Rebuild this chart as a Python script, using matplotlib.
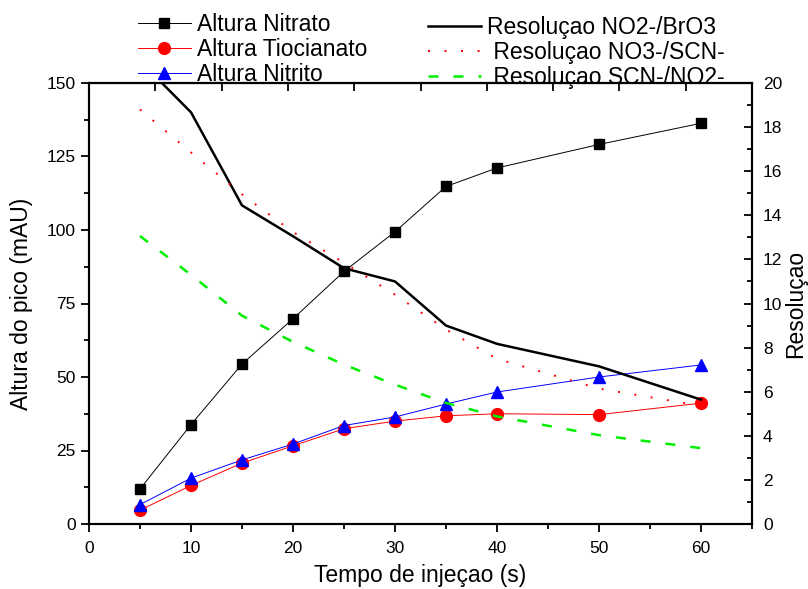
import numpy as np
import matplotlib
matplotlib.use("Agg")
import matplotlib.pyplot as plt
from matplotlib.ticker import MultipleLocator

plt.rcParams['font.family'] = ['Liberation Sans', 'DejaVu Sans']

# tempo de injecao (s)
tempo = [5, 10, 15, 20, 25, 30, 35, 40, 50, 60]

# altura do pico (mAU)
nitrato = [11.9, 33.8, 54.4, 69.8, 85.9, 99.4, 114.8, 121.1, 129.1, 136.3]
tiocianato = [4.7, 13.1, 20.7, 26.6, 32.4, 35.0, 36.8, 37.5, 37.2, 41.1]
nitrito = [6.6, 15.6, 21.8, 27.2, 33.5, 36.4, 40.8, 44.9, 50.0, 54.1]

# resolucao entre picos
res_no2_bro3 = [21.0, 18.67, 14.45, 13.05, 11.6, 11.0, 9.0, 8.17, 7.15, 5.64]
res_no3_scn = [18.8, 16.85, 14.95, 13.24, 11.85, 10.4, 8.82, 7.49, 6.14, 5.36]
res_scn_no2 = [13.06, 11.3, 9.45, 8.26, 7.23, 6.32, 5.49, 4.88, 4.03, 3.44]

fs = 16.5

fig = plt.figure(figsize=(8.08, 5.89), dpi=100)
ax = fig.add_axes([89 / 808, 1 - 524 / 589, (752 - 89) / 808, (524 - 83) / 589])

l1, = ax.plot(tempo, nitrato, '-s', color='black', lw=0.7, ms=7.5, label='Altura Nitrato')
l2, = ax.plot(tempo, tiocianato, '-o', color='red', lw=0.7, ms=8.5, label='Altura Tiocianato')
l3, = ax.plot(tempo, nitrito, '-^', color='blue', lw=0.7, ms=9, label='Altura Nitrito')

ax.set_xlim(0, 65)
ax.set_ylim(0, 150)
ax.xaxis.set_major_locator(MultipleLocator(10))
ax.xaxis.set_minor_locator(MultipleLocator(5))
ax.yaxis.set_major_locator(MultipleLocator(25))
ax.yaxis.set_minor_locator(MultipleLocator(12.5))
ax.tick_params(which='both', direction='out', width=1.3, labelsize=12.5, top=False, right=False)
ax.tick_params(which='major', length=6)
ax.tick_params(which='minor', length=3.5)
ax.tick_params(axis='x', pad=6)
ax.set_xlabel('Tempo de injeçao (s)', fontsize=fs, labelpad=6)
ax.set_ylabel('Altura do pico (mAU)', fontsize=fs, labelpad=10)
for s in ax.spines.values():
    s.set_linewidth(1.5)

# top axis with its own inward ticks
top = ax.secondary_xaxis('top')
top.set_xticks(np.linspace(0, 65, 11))
top.set_xticklabels([])
top.tick_params(direction='in', length=6, width=1.3)
top.spines['top'].set_linewidth(1.5)

ax2 = ax.twinx()
r1, = ax2.plot(tempo, res_no2_bro3, '-', color='black', lw=1.8, label='Resoluçao NO2-/BrO3')
r2, = ax2.plot(tempo, res_no3_scn, color='red', lw=1.4, linestyle=(0, (1, 7.5)),
               label=' Resoluçao NO3-/SCN-')
r3, = ax2.plot(tempo, res_scn_no2, color='#00ee00', lw=1.8, linestyle=(0, (4, 6)),
               label=' Resoluçao SCN-/NO2-')
ax2.set_ylim(0, 20)
ax2.yaxis.set_major_locator(MultipleLocator(2))
ax2.yaxis.set_minor_locator(MultipleLocator(1))
ax2.tick_params(which='both', direction='in', width=1.3, labelsize=12.5, pad=8)
ax2.tick_params(which='major', length=6)
ax2.tick_params(which='minor', length=3.5)
ax2.set_ylabel('Resoluçao', fontsize=fs, labelpad=1)
for s in ax2.spines.values():
    s.set_linewidth(1.5)

fig.legend(handles=[l1, l2, l3], loc='upper left', bbox_to_anchor=(138 / 808, 0.978),
           frameon=False, fontsize=fs, handlelength=2.3, handletextpad=0.27,
           labelspacing=0.09, borderpad=0, borderaxespad=0)
fig.legend(handles=[r1, r2, r3], loc='upper left', bbox_to_anchor=(428 / 808, 0.973),
           frameon=False, fontsize=fs, handlelength=2.3, handletextpad=0.27,
           labelspacing=0.09, borderpad=0, borderaxespad=0)

fig.savefig('out.png', dpi=100)
